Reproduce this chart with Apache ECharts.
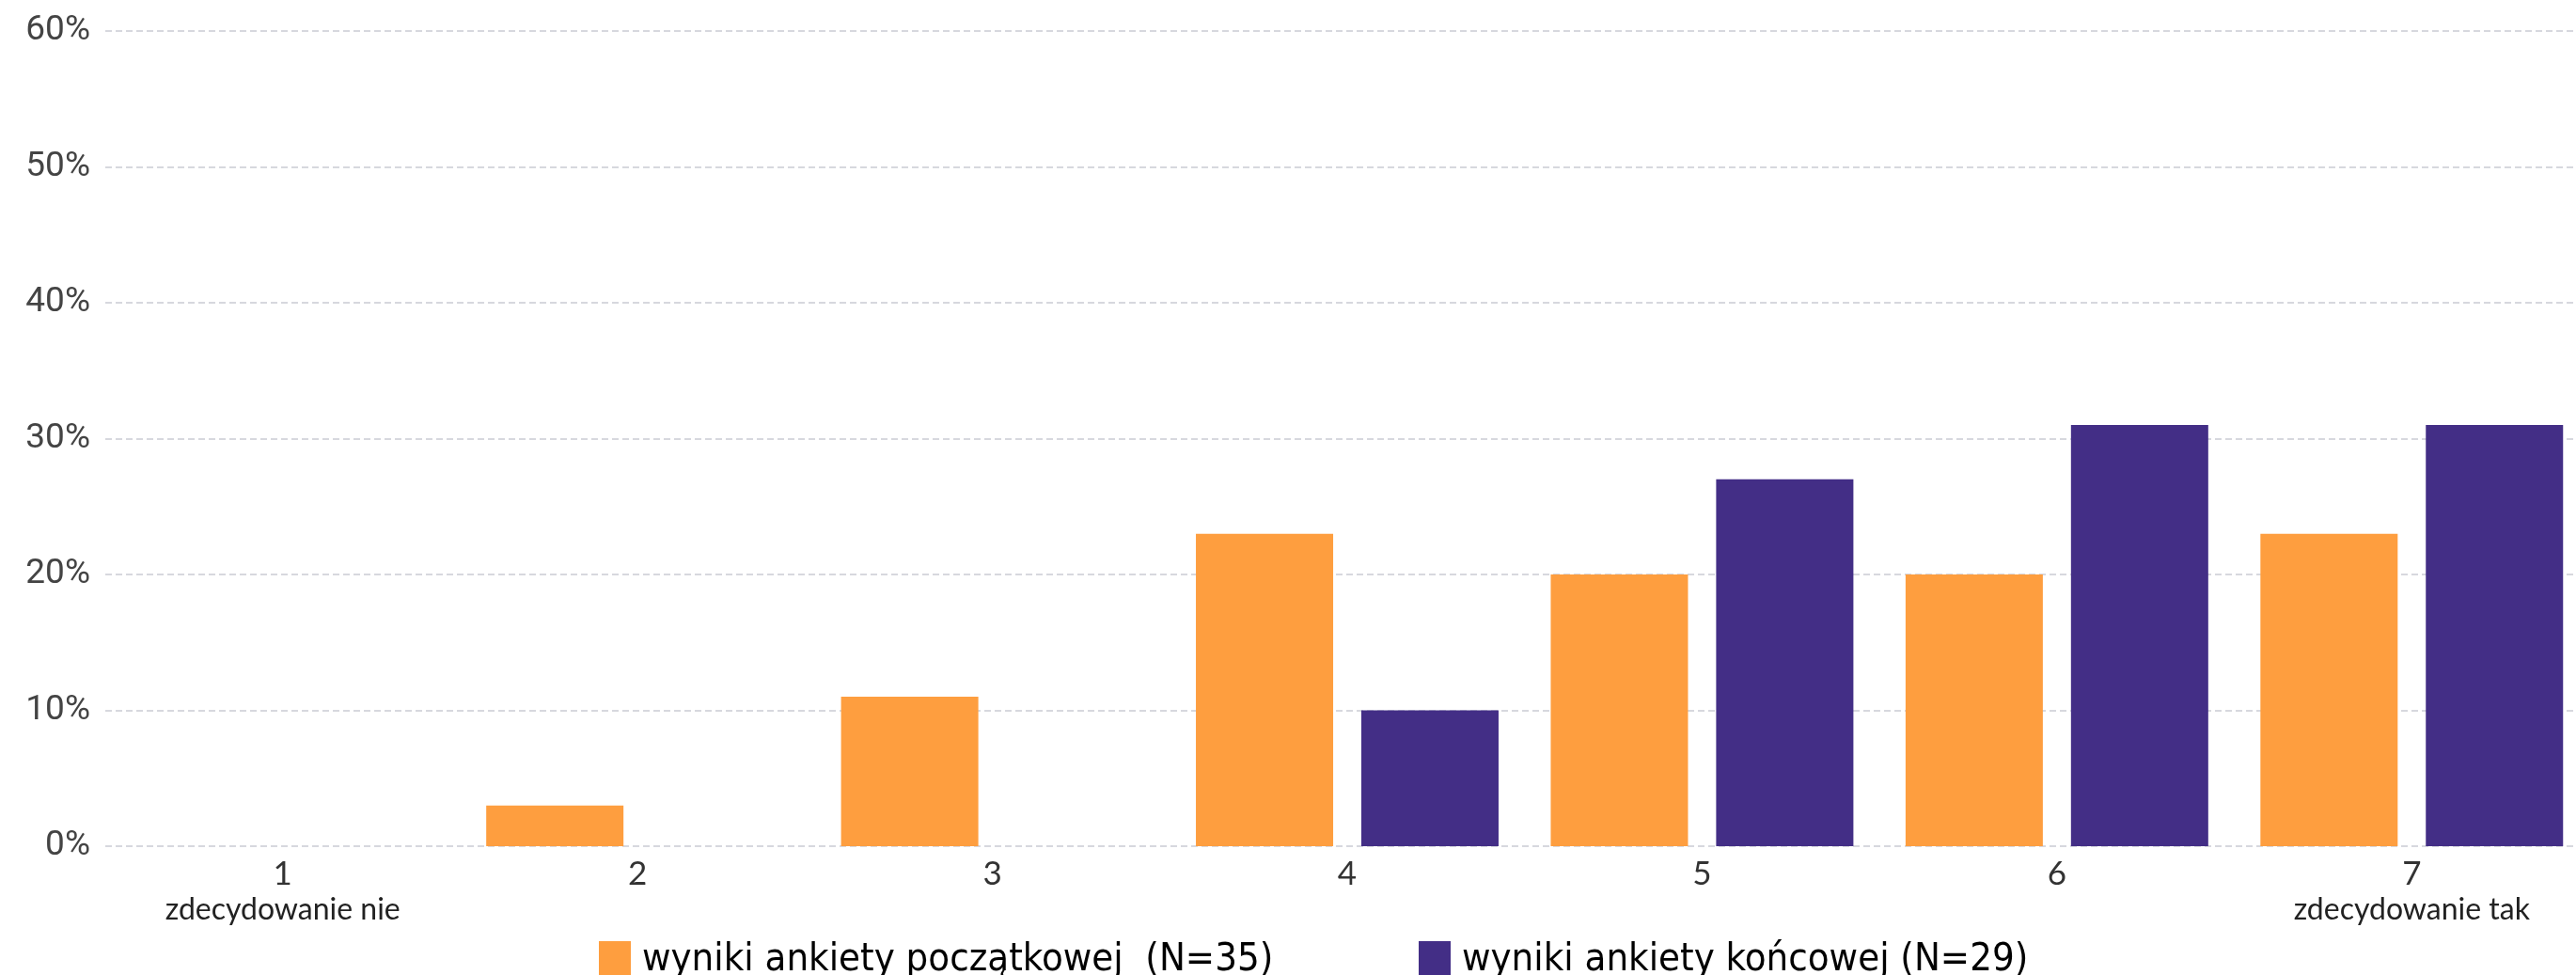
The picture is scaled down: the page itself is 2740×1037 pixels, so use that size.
<!DOCTYPE html>
<html>
<head>
<meta charset="utf-8">
<script src="https://cdn.jsdelivr.net/npm/echarts@6/dist/echarts.min.js"></script>
<style>
html,body{margin:0;padding:0;background:#fff;}
#c{width:2740px;height:1037px;}
</style>
</head>
<body>
<div id="c"></div>
<script>
const categories = ['1', '2', '3', '4', '5', '6', '7'];
const subLabels = ['zdecydowanie nie', '', '', '', '', '', 'zdecydowanie tak'];
const seriesNames = ['wyniki ankiety początkowej  (N=35)', 'wyniki ankiety końcowej (N=29)'];
const initialValues = [0, 3, 11, 23, 20, 20, 23];
const finalValues = [0, 0, 0, 10, 27, 31, 31];
const yTicks = [0, 10, 20, 30, 40, 50, 60];

const legendText = {fontFamily: "'Liberation Sans Narrow', 'DejaVu Sans Condensed', sans-serif", fontSize: 41.5, color: '#000', padding: [0, 0, 0, 7]};
const chart = echarts.init(document.getElementById('c'), null, {renderer: 'canvas'});
chart.setOption({
  animation: false,
  backgroundColor: '#ffffff',
  grid: {left: 112, width: 2642, top: 33, bottom: 137, containLabel: false, outerBoundsMode: 'none'},
  legend: [
    {left: 632, top: 995, itemWidth: 34, itemHeight: 40, icon: 'rect', textStyle: legendText, data: [seriesNames[0]]},
    {left: 1504, top: 995, itemWidth: 34, itemHeight: 40, icon: 'rect', textStyle: legendText, data: [seriesNames[1]]}
  ],
  xAxis: {
    type: 'category',
    data: categories,
    axisLine: {show: false},
    axisTick: {show: false},
    splitLine: {show: false},
    axisLabel: {
      margin: 10,
      interval: 0,
      formatter: function (v, i) {
        const s = subLabels[i];
        return s ? '{n|' + v + '}\n{s|' + s + '}' : '{n|' + v + '}';
      },
      rich: {
        n: {fontFamily: 'Lato', fontSize: 35, color: '#333', lineHeight: 40},
        s: {fontFamily: 'Lato', fontSize: 32, color: '#222', lineHeight: 36}
      }
    }
  },
  yAxis: {
    type: 'value',
    min: yTicks[0], max: yTicks[yTicks.length - 1], interval: 10,
    axisLine: {show: false},
    axisTick: {show: false},
    axisLabel: {formatter: '{value}%', fontFamily: 'Roboto', fontSize: 37, color: '#444', margin: 16},
    splitLine: {show: true, lineStyle: {color: '#cacbd4', width: 1.5, type: [7, 4]}}
  },
  series: [
    {name: seriesNames[0], type: 'bar', data: initialValues, barWidth: 146, barGap: '20.5%', itemStyle: {color: '#FE9E3F'}},
    {name: seriesNames[1], type: 'bar', data: finalValues, barWidth: 146, barGap: '20.5%', itemStyle: {color: '#432E86'}}
  ]
});
</script>
</body>
</html>
